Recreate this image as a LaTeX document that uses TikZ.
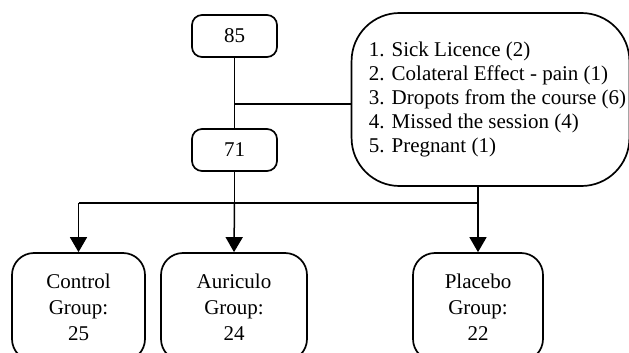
\documentclass[tikz,border=0pt]{standalone}
\usepackage{fontspec}
\setmainfont{Liberation Serif}
\usetikzlibrary{arrows.meta,positioning}

\begin{document}
\begin{tikzpicture}[x=1pt, y=-1pt,
    >={Triangle[length=15pt,width=17pt]},
    count/.style={draw, line width=1.7pt, rounded corners=10pt,
        minimum width=85pt, minimum height=42pt,
        font=\fontsize{21}{26}\selectfont},
    group/.style={draw, line width=1.7pt, rounded corners=22pt,
        minimum height=108pt, align=center,
        font=\fontsize{21}{26}\selectfont},
    link/.style={line width=1.5pt}
]
    \clip (0,0) rectangle (629,353);

    \node [count] (Total) at (234.5,36) {85};
    \node [count] (Remaining) at (234.5,150) {71};
    \node [draw,
        line width=1.7pt,
        rounded corners=48pt,
        minimum width=275pt,
        minimum height=173pt,
        align=left,
        font=\fontsize{21}{24}\selectfont
    ]  (Reasons) at (490.5,99.5) {\hspace*{14pt}1. Sick Licence (2)\\
        \hspace*{14pt}2. Colateral Effect - pain (1)\\
        \hspace*{14pt}3. Dropots from the course (6)\\
        \hspace*{14pt}4. Missed the session (4)\\
        \hspace*{14pt}5. Pregnant (1)};

    \node [group, minimum width=133pt] (Control) at (78.5,307) {Control\\Group:\\25};
    \node [group, minimum width=146pt] (Auriculo) at (234,307) {Auriculo\\Group:\\24};
    \node [group, minimum width=130pt] (Placebo) at (478,307) {Placebo\\Group:\\22};

    \coordinate (Split) at (234.5,104);
    \coordinate (Fork) at (234.5,203);

    \draw [link] (Total) -- (Remaining);
    \draw [link] (Split) -- (Split -| Reasons.west);
    \draw [link] (Remaining) -- (Fork);
    \draw [link] (Control.north |- Fork) -- (Placebo.north |- Fork);
    \draw [link,->] (Control.north |- Fork) -- (Control.north);
    \draw [link,->] (Fork) -- (Auriculo.north);
    \draw [link,->] (Reasons.south -| Placebo.north) -- (Placebo.north);

\end{tikzpicture}
\end{document}
